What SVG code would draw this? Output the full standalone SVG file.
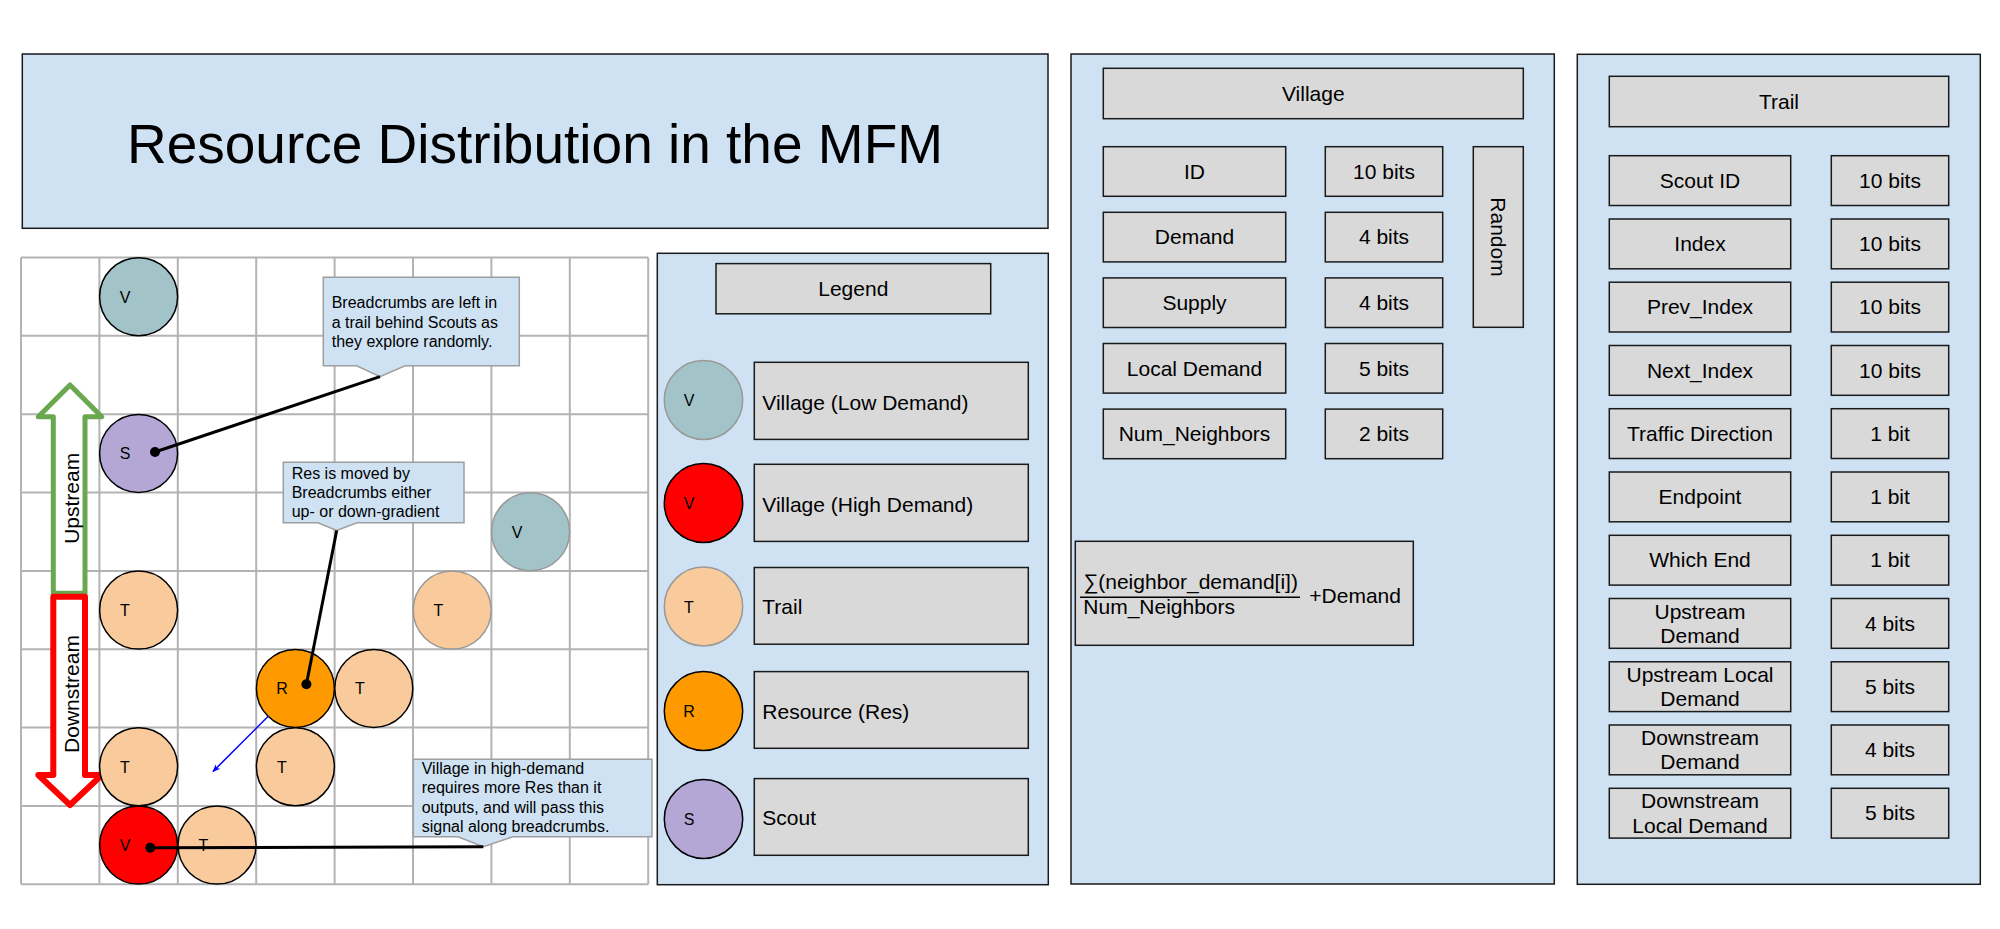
<svg xmlns="http://www.w3.org/2000/svg" width="2000" height="929" viewBox="0 0 2000 929">
<defs>
<style>
.panel{fill:#cfe2f3;stroke:#1a1a1a;stroke-width:1.5}
.box{fill:#d9d9d9;stroke:#1a1a1a;stroke-width:1.5}
text{font-family:"Liberation Sans",Arial,sans-serif;fill:#000}
.t21{font-size:21px}
.mid{text-anchor:middle}
.gl{stroke:#b3b3b3;stroke-width:2}
.callout{fill:#cfe2f3;stroke:#9e9e9e;stroke-width:1.5}
.ct{font-size:16px}
.lbl{font-size:16px;text-anchor:middle}
.ring{stroke:#000;stroke-width:1.5}
.ringg{stroke:#999;stroke-width:1.5}
.vlow{fill:#a2c4c9}.vhigh{fill:#ff0000}.trail{fill:#f9cb9c}.res{fill:#ff9900}.scout{fill:#b4a7d6}
.wire{stroke:#000;stroke-width:3;fill:none}
.thin{stroke:#000;stroke-width:1.5;fill:none}
</style>
<marker id="blueHead" viewBox="0 0 10 10" refX="9" refY="5" markerWidth="8" markerHeight="8" orient="auto" markerUnits="userSpaceOnUse">
<path d="M0,1 L10,5 L0,9 L3,5 Z" fill="#0000ff"/>
</marker>
</defs>
<rect width="2000" height="929" fill="#fff"/>

<g id="title">
<rect class="panel" x="22.3" y="54" width="1025.7" height="174.3"/>
<text x="535" y="163" font-size="55" class="mid">Resource Distribution in the MFM</text>
</g>

<g id="grid">
<rect x="21" y="257.5" width="627.2" height="626.8" fill="#fff"/>
<line class="gl" x1="21" y1="257.5" x2="21" y2="884.3"/>
<line class="gl" x1="99.4" y1="257.5" x2="99.4" y2="884.3"/>
<line class="gl" x1="177.8" y1="257.5" x2="177.8" y2="884.3"/>
<line class="gl" x1="256.2" y1="257.5" x2="256.2" y2="884.3"/>
<line class="gl" x1="334.6" y1="257.5" x2="334.6" y2="884.3"/>
<line class="gl" x1="413" y1="257.5" x2="413" y2="884.3"/>
<line class="gl" x1="491.4" y1="257.5" x2="491.4" y2="884.3"/>
<line class="gl" x1="569.8" y1="257.5" x2="569.8" y2="884.3"/>
<line class="gl" x1="648.2" y1="257.5" x2="648.2" y2="884.3"/>
<line class="gl" x1="21" y1="257.5" x2="648.2" y2="257.5"/>
<line class="gl" x1="21" y1="335.85" x2="648.2" y2="335.85"/>
<line class="gl" x1="21" y1="414.2" x2="648.2" y2="414.2"/>
<line class="gl" x1="21" y1="492.55" x2="648.2" y2="492.55"/>
<line class="gl" x1="21" y1="570.9" x2="648.2" y2="570.9"/>
<line class="gl" x1="21" y1="649.25" x2="648.2" y2="649.25"/>
<line class="gl" x1="21" y1="727.6" x2="648.2" y2="727.6"/>
<line class="gl" x1="21" y1="805.95" x2="648.2" y2="805.95"/>
<line class="gl" x1="21" y1="884.3" x2="648.2" y2="884.3"/>
</g>

<g id="flow-arrows">
<path d="M53.3,593.3 V416.7 H38.3 L70,385 L101.7,416.7 H85 V593.3 Z" fill="#fff" stroke="#6aa84f" stroke-width="5" stroke-linejoin="round"/>
<text class="t21 mid" font-size="20.5" transform="translate(71.7,498.3) rotate(-90)" y="7">Upstream</text>
<path d="M53.3,596.7 V775 H38.3 L70,805 L101.7,775 H85 V596.7 Z" fill="#fff" stroke="#ff0000" stroke-width="6" stroke-linejoin="round"/>
<text class="t21 mid" font-size="20.5" transform="translate(71.7,694) rotate(-90)" y="7">Downstream</text>
</g>

<g id="grid-nodes">
<g id="g-v1"><ellipse class="vlow ring" cx="138.6" cy="296.7" rx="39" ry="39"/><text class="lbl" x="125" y="302.7">V</text></g>
<g id="g-s1"><ellipse class="scout ring" cx="138.6" cy="453.4" rx="39" ry="39"/><text class="lbl" x="125" y="459.4">S</text></g>
<g id="g-v2"><ellipse class="vlow ringg" cx="530.6" cy="531.7" rx="39" ry="39"/><text class="lbl" x="517" y="537.7">V</text></g>
<g id="g-t1"><ellipse class="trail ring" cx="138.6" cy="610.1" rx="39" ry="39"/><text class="lbl" x="125" y="616.1">T</text></g>
<g id="g-t2"><ellipse class="trail ringg" cx="452.2" cy="610.1" rx="39" ry="39"/><text class="lbl" x="438.5" y="616.1">T</text></g>
<g id="g-r1"><ellipse class="res ring" cx="295.4" cy="688.4" rx="39" ry="39"/><text class="lbl" x="282" y="694.4">R</text></g>
<g id="g-t3"><ellipse class="trail ring" cx="373.8" cy="688.4" rx="39" ry="39"/><text class="lbl" x="360" y="694.4">T</text></g>
<g id="g-t4"><ellipse class="trail ring" cx="138.6" cy="766.8" rx="39" ry="39"/><text class="lbl" x="125" y="772.8">T</text></g>
<g id="g-t5"><ellipse class="trail ring" cx="295.4" cy="766.8" rx="39" ry="39"/><text class="lbl" x="282" y="772.8">T</text></g>
<g id="g-v3"><ellipse class="vhigh ring" cx="138.6" cy="845.1" rx="39" ry="39"/><text class="lbl" x="125" y="851.1">V</text></g>
<g id="g-t6"><ellipse class="trail ring" cx="217" cy="845.1" rx="39" ry="39"/><text class="lbl" x="203.5" y="851.1">T</text></g>
</g>

<g id="callouts">
<g id="callout-1">
<path class="callout" d="M323.3,277.3 H519.3 V365.7 H405 L380,376.7 L356.7,365.7 H323.3 Z"/>
<text class="ct" x="331.7" y="308.3">Breadcrumbs are left in</text>
<text class="ct" x="331.7" y="327.5">a trail behind Scouts as</text>
<text class="ct" x="331.7" y="346.7">they explore randomly.</text>
</g>
<g id="callout-2">
<path class="callout" d="M283.3,462.3 H464 V522.7 H357 L336.7,530.5 L318,522.7 H283.3 Z"/>
<text class="ct" x="291.7" y="479.3">Res is moved by</text>
<text class="ct" x="291.7" y="498.3">Breadcrumbs either</text>
<text class="ct" x="291.7" y="517.3">up- or down-gradient</text>
</g>
<g id="callout-3">
<path class="callout" d="M413.3,759.3 H652 V836.7 H513 L483.3,846.7 L458,836.7 H413.3 Z"/>
<text class="ct" x="421.7" y="774.3">Village in high-demand</text>
<text class="ct" x="421.7" y="793.3">requires more Res than it</text>
<text class="ct" x="421.7" y="812.5">outputs, and will pass this</text>
<text class="ct" x="421.7" y="831.7">signal along breadcrumbs.</text>
</g>
</g>

<g id="connectors">
<line class="wire" x1="380" y1="376.7" x2="155" y2="452"/>
<circle cx="155" cy="452" r="5"/>
<line class="wire" x1="336.7" y1="530.5" x2="306.4" y2="684.3"/>
<circle cx="306.4" cy="684.3" r="5"/>
<line class="wire" x1="483.3" y1="846.7" x2="150.3" y2="847.7"/>
<circle cx="150.3" cy="847.7" r="5"/>
<line x1="268.5" y1="716" x2="213" y2="771.5" stroke="#0000ff" stroke-width="1.5" marker-end="url(#blueHead)"/>
<polyline class="thin" points="1442.7,368.3 1498.3,368.3 1498.3,569.3 1413.3,569.3"/>
<line class="thin" x1="1442.7" y1="146.7" x2="1481" y2="146.7"/>
<line class="thin" x1="1442.7" y1="327.3" x2="1481" y2="327.3"/>
</g>

<g id="legend">
<rect class="panel" x="657.3" y="253.3" width="391" height="631.4"/>
<g id="legend-title"><rect class="box" x="716" y="263.6" width="274.7" height="50.2"/><text class="t21 mid" x="853.3" y="296">Legend</text></g>
<g id="legend-vlow"><ellipse class="vlow ringg" cx="703.5" cy="400" rx="39.2" ry="39.4"/><text class="lbl" x="689" y="406">V</text><rect class="box" x="754.3" y="362.3" width="274" height="77.1"/><text class="t21" x="762.3" y="409.5">Village (Low Demand)</text></g>
<g id="legend-vhigh"><ellipse class="vhigh ring" cx="703.5" cy="503" rx="39.2" ry="39.4"/><text class="lbl" x="689" y="509">V</text><rect class="box" x="754.3" y="464.3" width="274" height="77.1"/><text class="t21" x="762.3" y="511.5">Village (High Demand)</text></g>
<g id="legend-trail"><ellipse class="trail ringg" cx="703.5" cy="606.5" rx="39.2" ry="39.4"/><text class="lbl" x="689" y="612.5">T</text><rect class="box" x="754.3" y="567.5" width="274" height="76.7"/><text class="t21" x="762.3" y="613.5">Trail</text></g>
<g id="legend-res"><ellipse class="res ring" cx="703.5" cy="711" rx="39.2" ry="39.4"/><text class="lbl" x="689" y="717">R</text><rect class="box" x="754.3" y="671.6" width="274" height="76.7"/><text class="t21" x="762.3" y="718.5">Resource (Res)</text></g>
<g id="legend-scout"><ellipse class="scout ring" cx="703.5" cy="819" rx="39.2" ry="39.4"/><text class="lbl" x="689" y="825">S</text><rect class="box" x="754.3" y="778.6" width="274" height="76.7"/><text class="t21" x="762.3" y="824.5">Scout</text></g>
</g>

<g id="village">
<rect class="panel" x="1071" y="54" width="483.3" height="830"/>
<g id="v-title"><rect class="box" x="1103.3" y="68.3" width="420" height="50.4"/><text class="t21 mid" x="1313.3" y="100.5">Village</text></g>
<g id="v-id"><rect class="box" x="1103.3" y="146.7" width="182.4" height="49.6"/><text class="t21 mid" x="1194.5" y="178.7">ID</text><rect class="box" x="1325.3" y="146.7" width="117.4" height="49.6"/><text class="t21 mid" x="1384" y="178.7">10 bits</text></g>
<g id="v-demand"><rect class="box" x="1103.3" y="212.3" width="182.4" height="49.6"/><text class="t21 mid" x="1194.5" y="244.3">Demand</text><rect class="box" x="1325.3" y="212.3" width="117.4" height="49.6"/><text class="t21 mid" x="1384" y="244.3">4 bits</text></g>
<g id="v-supply"><rect class="box" x="1103.3" y="277.9" width="182.4" height="49.6"/><text class="t21 mid" x="1194.5" y="309.9">Supply</text><rect class="box" x="1325.3" y="277.9" width="117.4" height="49.6"/><text class="t21 mid" x="1384" y="309.9">4 bits</text></g>
<g id="v-local"><rect class="box" x="1103.3" y="343.5" width="182.4" height="49.6"/><text class="t21 mid" x="1194.5" y="375.5">Local Demand</text><rect class="box" x="1325.3" y="343.5" width="117.4" height="49.6"/><text class="t21 mid" x="1384" y="375.5">5 bits</text></g>
<g id="v-num"><rect class="box" x="1103.3" y="409.1" width="182.4" height="49.6"/><text class="t21 mid" x="1194.5" y="441.1">Num_Neighbors</text><rect class="box" x="1325.3" y="409.1" width="117.4" height="49.6"/><text class="t21 mid" x="1384" y="441.1">2 bits</text></g>
<g id="v-random"><rect class="box" x="1473.3" y="146.7" width="50" height="180.6"/><text class="t21 mid" transform="translate(1498.3,237) rotate(90)" y="7">Random</text></g>
<g id="v-formula"><rect class="box" x="1075.3" y="541.3" width="338" height="104"/>
<text class="t21" x="1083.3" y="589.3">∑(neighbor_demand[i])</text>
<line x1="1080" y1="597.3" x2="1300" y2="597.3" stroke="#000" stroke-width="1.5"/>
<text class="t21" x="1083.3" y="614">Num_Neighbors</text>
<text class="t21" x="1309.3" y="602.7">+Demand</text>
</g>
</g>

<g id="trail">
<rect class="panel" x="1577.3" y="54.3" width="403" height="830"/>
<g id="t-title"><rect class="box" x="1609.3" y="76.3" width="339.4" height="50.4"/><text class="t21 mid" x="1779" y="108.5">Trail</text></g>
<g id="t-scout"><rect class="box" x="1609.3" y="155.7" width="181.4" height="49.8"/><text class="t21 mid" x="1700" y="187.8">Scout ID</text><rect class="box" x="1831.3" y="155.7" width="117.4" height="49.8"/><text class="t21 mid" x="1890" y="187.8">10 bits</text></g>
<g id="t-index"><rect class="box" x="1609.3" y="219" width="181.4" height="49.8"/><text class="t21 mid" x="1700" y="251.1">Index</text><rect class="box" x="1831.3" y="219" width="117.4" height="49.8"/><text class="t21 mid" x="1890" y="251.1">10 bits</text></g>
<g id="t-prev"><rect class="box" x="1609.3" y="282.2" width="181.4" height="49.8"/><text class="t21 mid" x="1700" y="314.3">Prev_Index</text><rect class="box" x="1831.3" y="282.2" width="117.4" height="49.8"/><text class="t21 mid" x="1890" y="314.3">10 bits</text></g>
<g id="t-next"><rect class="box" x="1609.3" y="345.5" width="181.4" height="49.8"/><text class="t21 mid" x="1700" y="377.6">Next_Index</text><rect class="box" x="1831.3" y="345.5" width="117.4" height="49.8"/><text class="t21 mid" x="1890" y="377.6">10 bits</text></g>
<g id="t-traffic"><rect class="box" x="1609.3" y="408.7" width="181.4" height="49.8"/><text class="t21 mid" x="1700" y="440.8">Traffic Direction</text><rect class="box" x="1831.3" y="408.7" width="117.4" height="49.8"/><text class="t21 mid" x="1890" y="440.8">1 bit</text></g>
<g id="t-endpoint"><rect class="box" x="1609.3" y="472" width="181.4" height="49.8"/><text class="t21 mid" x="1700" y="504.1">Endpoint</text><rect class="box" x="1831.3" y="472" width="117.4" height="49.8"/><text class="t21 mid" x="1890" y="504.1">1 bit</text></g>
<g id="t-which"><rect class="box" x="1609.3" y="535.3" width="181.4" height="49.8"/><text class="t21 mid" x="1700" y="567.4">Which End</text><rect class="box" x="1831.3" y="535.3" width="117.4" height="49.8"/><text class="t21 mid" x="1890" y="567.4">1 bit</text></g>
<g id="t-updem"><rect class="box" x="1609.3" y="598.5" width="181.4" height="49.8"/><text class="t21 mid" x="1700" y="618.6">Upstream</text><text class="t21 mid" x="1700" y="642.8">Demand</text><rect class="box" x="1831.3" y="598.5" width="117.4" height="49.8"/><text class="t21 mid" x="1890" y="630.6">4 bits</text></g>
<g id="t-uplocal"><rect class="box" x="1609.3" y="661.8" width="181.4" height="49.8"/><text class="t21 mid" x="1700" y="681.9">Upstream Local</text><text class="t21 mid" x="1700" y="706.1">Demand</text><rect class="box" x="1831.3" y="661.8" width="117.4" height="49.8"/><text class="t21 mid" x="1890" y="693.9">5 bits</text></g>
<g id="t-downdem"><rect class="box" x="1609.3" y="725" width="181.4" height="49.8"/><text class="t21 mid" x="1700" y="745.1">Downstream</text><text class="t21 mid" x="1700" y="769.3">Demand</text><rect class="box" x="1831.3" y="725" width="117.4" height="49.8"/><text class="t21 mid" x="1890" y="757.1">4 bits</text></g>
<g id="t-downlocal"><rect class="box" x="1609.3" y="788.3" width="181.4" height="49.8"/><text class="t21 mid" x="1700" y="808.4">Downstream</text><text class="t21 mid" x="1700" y="832.6">Local Demand</text><rect class="box" x="1831.3" y="788.3" width="117.4" height="49.8"/><text class="t21 mid" x="1890" y="820.4">5 bits</text></g>
</g>
</svg>
